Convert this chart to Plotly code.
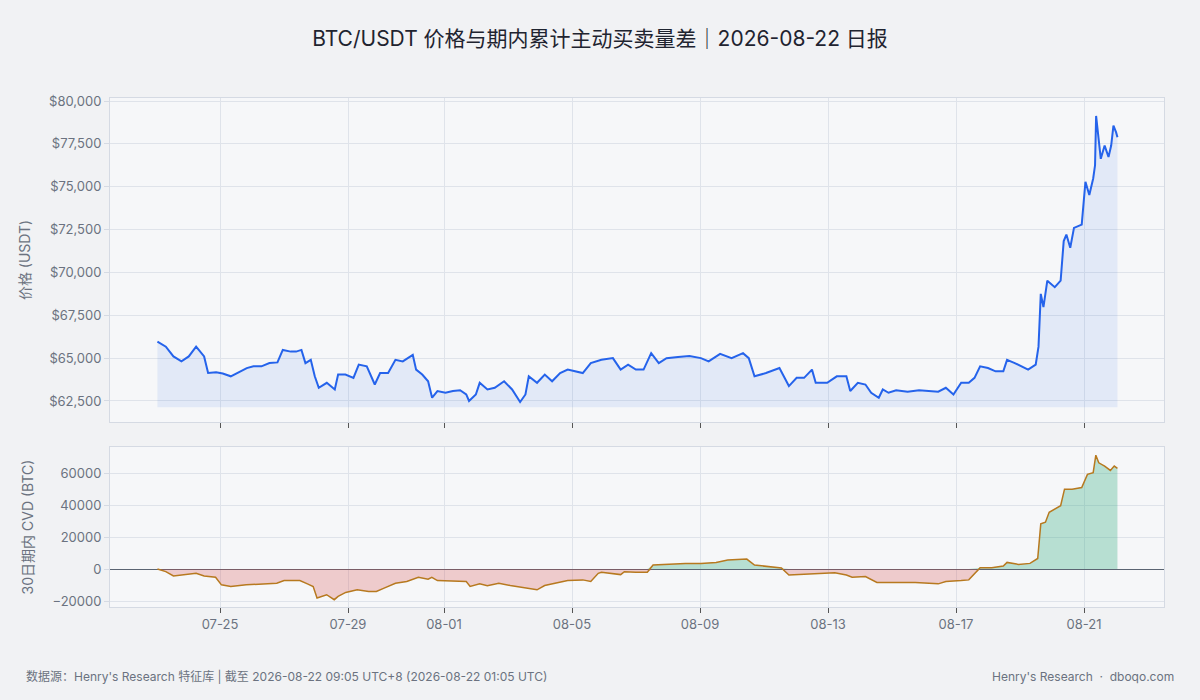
import pandas as pd
import plotly.graph_objects as go
from plotly.subplots import make_subplots

# Serie de precio: horas desde el inicio (2026-07-23 01:05) y precio USDT
inicio = pd.Timestamp("2026-07-23 01:05")

precio_h = [0, 6.3, 12, 18, 23.5, 29, 35, 38, 44, 49, 55, 61, 67, 72, 78, 84, 90, 94, 100, 104,
            108, 111, 115, 118, 121, 127, 133, 135.5, 141, 147, 151, 157, 163, 167, 173, 178.5, 184,
            191.5, 194, 198.6, 203, 206, 210, 216, 221.6, 227, 231.6, 233.7, 238.8, 241.7, 247.5,
            253, 260, 266, 272, 276, 278.5, 284.7, 290.5, 296, 302, 307.7, 313.4, 319, 325, 333,
            341.6, 347.4, 353, 358.8, 364.6, 370.3, 376, 381.8, 390.4, 399, 407.6, 413.4, 422, 430.6,
            439.2, 443.5, 447.8, 456.4, 466.5, 470.8, 473.6, 479.4, 485, 490.9, 493.7, 502.3, 509.5,
            516.7, 519.6, 525.3, 531, 535.3, 541, 544, 548.3, 554, 562.6, 571.2, 579.8, 585.6, 591.3,
            597, 602.8, 608.5, 612.8, 617, 622.9, 628.6, 634.4, 637.2, 643, 648.7, 653, 658.7, 660.8,
            662.5, 664.5, 667.4, 670.2, 673, 677.4, 679.7, 681.7, 684.6, 687.4, 693.2, 696, 698.9,
            701.8, 703.2, 704, 706, 707.5, 710.4, 713.3, 715.3, 717, 719, 720]
precio = [65960, 65670, 65100, 64810, 65100, 65670, 65100, 64130, 64170, 64100, 63940, 64170, 64420,
          64520, 64520, 64710, 64750, 65480, 65380, 65380, 65480, 64710, 64900, 63940, 63270, 63560,
          63170, 64040, 64040, 63850, 64620, 64520, 63460, 64130, 64130, 64900, 64810, 65190, 64330,
          64040, 63650, 62690, 63080, 62980, 63080, 63130, 62880, 62500, 62880, 63560, 63170, 63270,
          63650, 63170, 62440, 62880, 63940, 63560, 64040, 63650, 64130, 64330, 64230, 64130, 64710,
          64900, 65000, 64330, 64620, 64330, 64330, 65290, 64710, 65000, 65060, 65130, 65000, 64810,
          65250, 65000, 65290, 65000, 63940, 64130, 64420, 63750, 63370, 63850, 63850, 64330, 63560,
          63560, 63940, 63940, 63080, 63560, 63460, 62980, 62690, 63170, 62980, 63130, 63040, 63130,
          63080, 63040, 63270, 62880, 63560, 63560, 63850, 64520, 64420, 64230, 64230, 64900, 64710,
          64520, 64330, 64620, 65670, 68750, 67980, 69520, 69330, 69140, 69520, 71830, 72210, 71440,
          72600, 72790, 75290, 74520, 75480, 76250, 79130, 77600, 76630, 77400, 76730, 77400, 78560,
          78170, 77880]

# CVD acumulado en el periodo (BTC)
cvd_h = [0, 6.3, 12, 18, 23.5, 29, 35, 43.6, 48, 55, 66.6, 78, 89.5, 95, 106.8, 112.5, 116.8, 119.7,
         126.9, 132.6, 135.5, 141.2, 149.8, 158.4, 164.2, 170, 178.5, 187, 195.7, 203, 205.8, 210,
         221.6, 231.6, 234.5, 241.7, 247.4, 256, 264.6, 273.2, 284.7, 290.4, 299, 307.7, 319, 325,
         330.6, 333, 347.4, 350.2, 358.8, 367.4, 371.7, 381.8, 396, 407.6, 419, 427.7, 442, 447.8,
         459.3, 468, 473.6, 488, 499.5, 508, 516.7, 521, 531, 539.6, 551, 568.3, 585.6, 591.3, 602.8,
         608.5, 617, 625.7, 634.4, 637.2, 645.8, 654.4, 660.2, 662.5, 666, 668.8, 677.4, 680.3, 686,
         693.2, 697.5, 701.8, 703.8, 706, 710.4, 714.7, 717.6, 720]
cvd = [0, -1650, -4330, -3710, -3300, -2680, -4330, -5150, -9900, -10930, -9900, -9480, -8870,
       -7220, -7220, -9280, -10930, -18140, -16080, -19180, -17110, -14640, -12990, -14020, -14020,
       -11960, -8870, -7840, -5150, -6390, -5150, -7220, -7420, -7840, -10930, -9280, -10520, -8870,
       -10310, -11340, -12990, -10310, -8870, -7220, -6800, -7840, -2680, -2060, -3500, -1650, -2060,
       -2060, 2470, 2890, 3510, 3510, 4120, 5570, 6190, 2470, 1440, 620, -3710, -3090, -2270, -2270,
       -3710, -5150, -4740, -8450, -8450, -8450, -9280, -7840, -7220, -6800, 820, 820, 1860, 4120,
       2890, 3510, 6600, 28250, 29280, 35460, 39590, 49900, 49900, 50930, 59180, 60210, 71130, 66390,
       64330, 61650, 64330, 62890]

ticks_fecha = ["2026-07-25", "2026-07-29", "2026-08-01", "2026-08-05",
               "2026-08-09", "2026-08-13", "2026-08-17", "2026-08-21"]

t_precio = inicio + pd.to_timedelta(precio_h, unit="h")
t_cvd = inicio + pd.to_timedelta(cvd_h, unit="h")
base = min(precio) * 0.995

gris = "#6b7280"
grilla = "#dfe3ea"
borde = "#d5dae3"

fig = make_subplots(rows=2, cols=1, shared_xaxes=True, row_heights=[0.67, 0.33],
                    vertical_spacing=0.05)

fig.add_trace(go.Scatter(x=t_precio, y=[base] * len(precio), mode="lines",
                         line=dict(width=0), hoverinfo="skip", showlegend=False), row=1, col=1)
fig.add_trace(go.Scatter(x=t_precio, y=precio, mode="lines", fill="tonexty",
                         fillcolor="rgba(37,99,235,0.09)", line=dict(color="#2563eb", width=2),
                         showlegend=False), row=1, col=1)

cvd_pos = [max(v, 0) for v in cvd]
cvd_neg = [min(v, 0) for v in cvd]
fig.add_trace(go.Scatter(x=t_cvd, y=cvd_pos, mode="lines", fill="tozeroy",
                         fillcolor="rgba(20,160,110,0.28)", line=dict(width=0),
                         showlegend=False), row=2, col=1)
fig.add_trace(go.Scatter(x=t_cvd, y=cvd_neg, mode="lines", fill="tozeroy",
                         fillcolor="rgba(215,70,70,0.25)", line=dict(width=0),
                         showlegend=False), row=2, col=1)
fig.add_trace(go.Scatter(x=t_cvd, y=cvd, mode="lines", line=dict(color="#b7791f", width=1.5),
                         showlegend=False), row=2, col=1)

xr = ["2026-07-21 13:30", "2026-08-23 12:00"]
ejes_x = dict(range=xr, tickvals=ticks_fecha, tickformat="%m-%d", gridcolor=grilla,
              showline=True, mirror=True, linecolor=borde, ticks="outside", ticklen=5,
              tickcolor="#555", tickfont=dict(color=gris, size=13))
fig.update_xaxes(**ejes_x)
fig.update_xaxes(showticklabels=False, row=1, col=1)

fig.update_yaxes(row=1, col=1, range=[61275, 80175], tickvals=[62500, 65000, 67500, 70000, 72500, 75000, 77500, 80000],
                 tickformat="$,.0f", title=dict(text="价格 (USDT)", font=dict(color=gris, size=14)),
                 gridcolor=grilla, showline=True, mirror=True, linecolor=borde, ticks="outside",
                 ticklen=5, tickcolor=borde, tickfont=dict(color=gris, size=13), zeroline=False)
fig.update_yaxes(row=2, col=1, range=[-23750, 76250], tickvals=[-20000, 0, 20000, 40000, 60000],
                 tickformat="d", title=dict(text="30日期内 CVD (BTC)", font=dict(color=gris, size=14)),
                 gridcolor=grilla, showline=True, mirror=True, linecolor=borde, ticks="outside",
                 ticklen=5, tickcolor=borde, tickfont=dict(color=gris, size=13),
                 zeroline=True, zerolinecolor="#5b6472", zerolinewidth=1)

fig.update_layout(
    width=1200, height=700,
    title=dict(text="BTC/USDT 价格与期内累计主动买卖量差｜2026-08-22 日报", x=0.5, y=0.955,
               xanchor="center", font=dict(size=21, color="#1f2430")),
    font=dict(family="Inter, Noto Sans CJK SC, sans-serif"),
    paper_bgcolor="#f1f2f4", plot_bgcolor="#f6f7f9",
    margin=dict(l=110, r=36, t=98, b=93),
    annotations=[
        dict(text="数据源：Henry's Research 特征库 | 截至 2026-08-22 09:05 UTC+8 (2026-08-22 01:05 UTC)",
             xref="paper", yref="paper", x=-0.0816, y=-0.1375, xanchor="left", yanchor="middle",
             showarrow=False, font=dict(size=12, color=gris)),
        dict(text="Henry's Research  ·  dboqo.com", xref="paper", yref="paper", x=1.0114, y=-0.1375,
             xanchor="right", yanchor="middle", showarrow=False, font=dict(size=12, color=gris)),
    ],
)
fig.update_layout(yaxis=dict(domain=[0.3635, 1.0]), yaxis2=dict(domain=[0, 0.3143]))

fig.write_html("out.html", config={"displayModeBar": False},
               post_script="document.body.style.margin='0';")
